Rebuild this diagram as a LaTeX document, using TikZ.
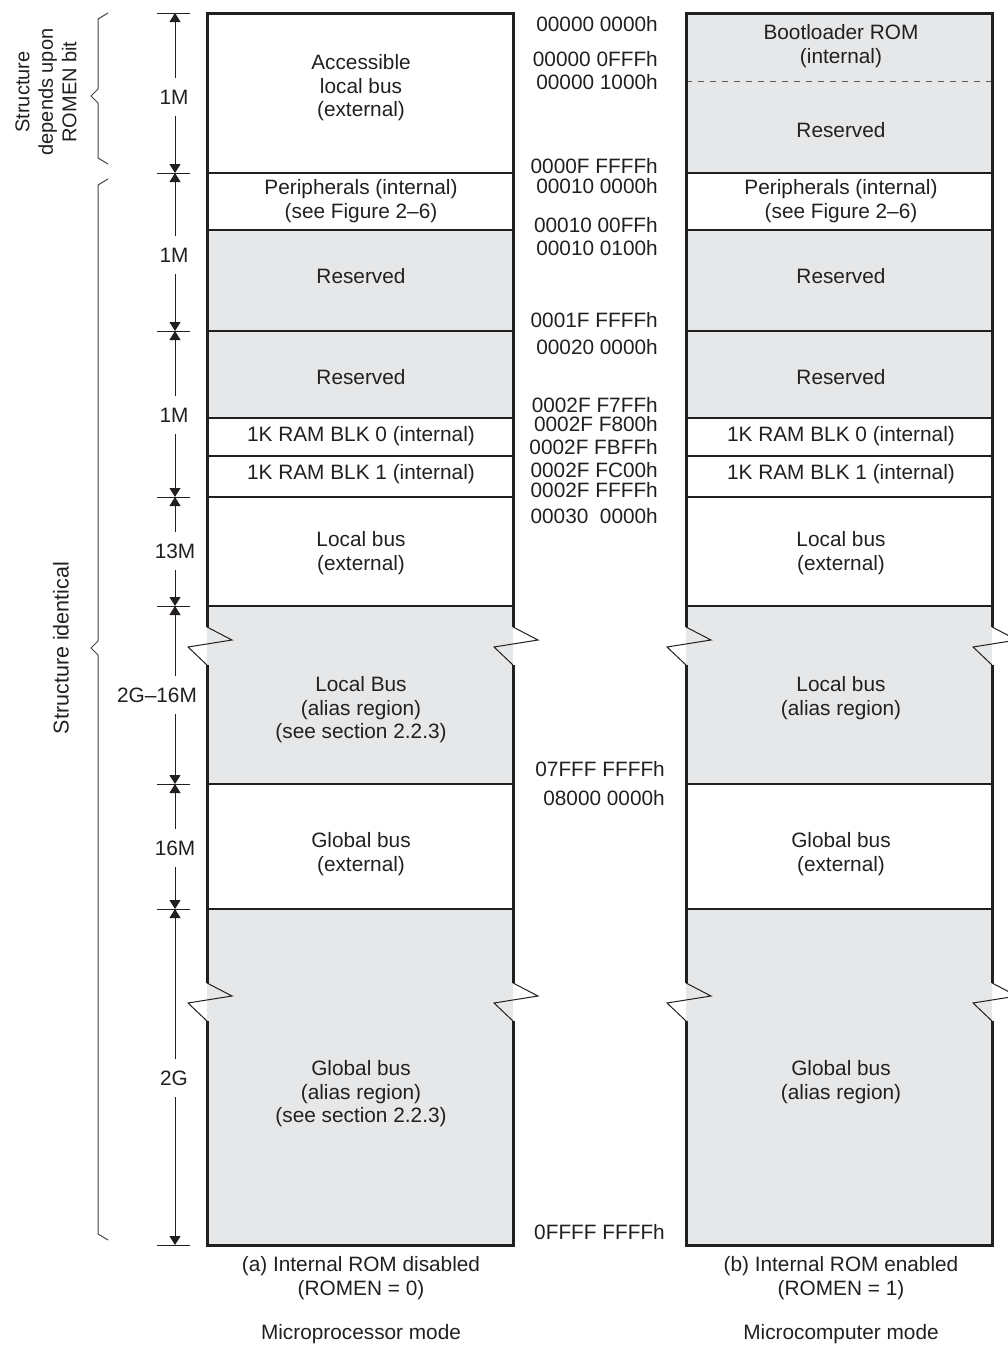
\documentclass[tikz,border=0pt]{standalone}
\usepackage{fontspec}
\setmainfont{Liberation Sans}
\usetikzlibrary{arrows.meta}
\definecolor{memgray}{HTML}{E6E7E8}
\definecolor{ink}{HTML}{231F20}
\begin{document}
\begin{tikzpicture}[x=1pt,y=-1pt,
  txt/.style={font=\fontsize{20.8}{23.5}\selectfont, align=center, inner sep=0pt, text=ink},
  addr/.style={font=\fontsize{20.8}{23.5}\selectfont, anchor=east, inner sep=0pt, text=ink},
  outer/.style={line width=3pt, draw=ink, line cap=butt, line join=miter},
  sepline/.style={line width=1.3pt, draw=ink},
  dashsep/.style={line width=1pt, draw=ink!75, dash pattern=on 6pt off 6pt},
  dimline/.style={line width=1pt, draw=ink, {Triangle[length=9pt,width=11pt]}-{Triangle[length=9pt,width=11pt]}},
  tickline/.style={line width=1pt, draw=ink},
  dimlabel/.style={txt, fill=white, minimum height=38pt, inner xsep=1pt},
  brkline/.style={line width=1pt, draw=ink, line join=miter},
  bracel/.style={line width=1pt, draw=ink!85, line join=miter},
]
\useasboundingbox (0,0) rectangle (1007,1347);

% ---------------- fills ----------------
\foreach \xl/\xr in {207/513, 686/992} {
  \fill[memgray] (\xl,230) rectangle (\xr,418);
  \fill[memgray] (\xl,606) rectangle (\xr,784);
  \fill[memgray] (\xl,909) rectangle (\xr,1245);
}
\fill[memgray] (686,13) rectangle (992,173);

% ---------------- separators ----------------
\foreach \xl/\xr in {207/513, 686/992} {
  \foreach \yy in {173,230,331,418,456,497,606,784,909} {
    \draw[sepline] (\xl,\yy) -- (\xr,\yy);
  }
}
\draw[dashsep] (686,81) -- (992,81);

% ---------------- outer borders with breaks ----------------
\foreach \xl/\xr in {207/513, 686/992} {
  \draw[outer] (\xl,627) -- (\xl,13) -- (\xr,13) -- (\xr,627);
  \draw[outer] (\xl,665) -- (\xl,983);
  \draw[outer] (\xr,665) -- (\xr,983);
  \draw[outer] (\xl,1021) -- (\xl,1245) -- (\xr,1245) -- (\xr,1021);
  \foreach \xx in {\xl,\xr} {
    \draw[brkline] (\xx,627) -- (\xx+25,640) -- (\xx-19,647) -- (\xx,665);
    \draw[brkline] (\xx,983) -- (\xx+25,996) -- (\xx-19,1003) -- (\xx,1021);
  }
}

% ---------------- left column texts ----------------
\node[txt] (l1) at (361,88) {Accessible\\local bus\\(external)};
\node[txt] (l2) at (361,201) {Peripherals (internal)\\(see Figure 2–6)};
\node[txt] (l3) at (361,276) {Reserved};
\node[txt] (l4) at (361,377) {Reserved};
\node[txt] (l5) at (361,436) {1K RAM BLK 0 (internal)};
\node[txt] (l6) at (361,474) {1K RAM BLK 1 (internal)};
\node[txt] (l7) at (361,553) {Local bus\\(external)};
\node[txt] (l8) at (361,710) {Local Bus\\(alias region)\\(see section 2.2.3)};
\node[txt] (l9) at (361,854) {Global bus\\(external)};
\node[txt] (l10) at (361,1094) {Global bus\\(alias region)\\(see section 2.2.3)};

% ---------------- right column texts ----------------
\node[txt] (r1) at (841,46) {Bootloader ROM\\(internal)};
\node[txt] (r2) at (841,130) {Reserved};
\node[txt] (r3) at (841,201) {Peripherals (internal)\\(see Figure 2–6)};
\node[txt] (r4) at (841,276) {Reserved};
\node[txt] (r5) at (841,377) {Reserved};
\node[txt] (r6) at (841,436) {1K RAM BLK 0 (internal)};
\node[txt] (r7) at (841,474) {1K RAM BLK 1 (internal)};
\node[txt] (r8) at (841,553) {Local bus\\(external)};
\node[txt] (r9) at (841,698) {Local bus\\(alias region)};
\node[txt] (r10) at (841,854) {Global bus\\(external)};
\node[txt] (r11) at (841,1082) {Global bus\\(alias region)};

% ---------------- addresses ----------------
\node[addr] (a1) at (658,24) {00000 0000h};
\node[addr] (a2) at (658,59) {00000 0FFFh};
\node[addr] (a3) at (658,82) {00000 1000h};
\node[addr] (a4) at (658,166) {0000F FFFFh};
\node[addr] (a5) at (658,186) {00010 0000h};
\node[addr] (a6) at (658,225) {00010 00FFh};
\node[addr] (a7) at (658,248) {00010 0100h};
\node[addr] (a8) at (658,320) {0001F FFFFh};
\node[addr] (a9) at (658,347) {00020 0000h};
\node[addr] (a10) at (658,405) {0002F F7FFh};
\node[addr] (a11) at (658,424) {0002F F800h};
\node[addr] (a12) at (658,447) {0002F FBFFh};
\node[addr] (a13) at (658,470) {0002F FC00h};
\node[addr] (a14) at (658,490) {0002F FFFFh};
\node[addr] (a15) at (658,516) {00030\ \ 0000h};
\node[addr] (a16) at (665,769) {07FFF FFFFh};
\node[addr] (a17) at (665,798) {08000 0000h};
\node[addr] (a18) at (665,1232) {0FFFF FFFFh};

% ---------------- dimension line ----------------
\foreach \n/\yy in {0/13,1/173,2/331,3/497,4/606,5/784,6/909,7/1245} {
  \coordinate (d\n) at (175,\yy);
  \draw[tickline] (157,\yy) -- (190,\yy);
}
\foreach \a/\b in {0/1,1/2,2/3,3/4,4/5,5/6,6/7} {
  \draw[dimline] (d\a) -- (d\b);
}
\node[dimlabel] (m1) at (174,97) {1M};
\node[dimlabel] (m2) at (174,255) {1M};
\node[dimlabel] (m3) at (174,415) {1M};
\node[dimlabel] (m4) at (175,551) {13M};
\node[dimlabel] (m5) at (157,695) {2G–16M};
\node[dimlabel] (m6) at (175,848) {16M};
\node[dimlabel] (m7) at (174,1078) {2G};

% ---------------- braces ----------------
\draw[bracel] (108,13) -- (98,19) -- (98,89) -- (91,96) -- (98,103) -- (98,158) -- (108,164);
\draw[bracel] (108,179) -- (98,185) -- (98,641) -- (91,648) -- (98,655) -- (98,1234) -- (108,1240);
\node[txt, rotate=90, font=\fontsize{20}{23.5}\selectfont] (s1) at (46,92) {Structure\\depends upon\\ROMEN bit};
\node[txt, rotate=90, font=\fontsize{21.5}{23.5}\selectfont] (s2) at (61,648) {Structure identical};

% ---------------- captions ----------------
\node[txt] (c1) at (361,1278) {(a) Internal ROM disabled\\(ROMEN = 0)};
\node[txt] (c2) at (361,1334) {Microprocessor mode};
\node[txt] (c3) at (841,1278) {(b) Internal ROM enabled\\(ROMEN = 1)};
\node[txt] (c4) at (841,1334) {Microcomputer mode};
\end{tikzpicture}
\end{document}
